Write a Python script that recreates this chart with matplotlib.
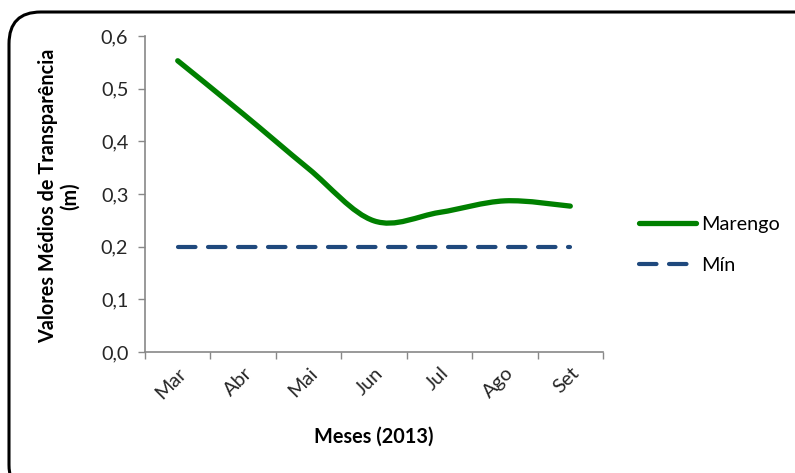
import numpy as np
import matplotlib
matplotlib.use("Agg")
import matplotlib.pyplot as plt
from matplotlib.path import Path
from matplotlib.patches import PathPatch, FancyBboxPatch
from matplotlib.lines import Line2D

plt.rcParams['font.family'] = ['Lato', 'DejaVu Sans']

meses = ["Mar", "Abr", "Mai", "Jun", "Jul", "Ago", "Set"]
marengo = [0.553, 0.452, 0.348, 0.249, 0.265, 0.287, 0.277]
minimo = [0.2, 0.2, 0.2, 0.2, 0.2, 0.2, 0.2]

green = "#008000"
blue = "#1F497D"
fs = 14.3

fig = plt.figure(figsize=(7.95, 4.73), dpi=100)
ax = fig.add_axes([0.1824, 0.2558, 0.5761, 0.6681])

# smoothed line (Excel style bezier through the points)
x = np.arange(len(meses), dtype=float)
y = np.array(marengo)
pts = np.column_stack([x, y])
verts = [pts[0]]
codes = [Path.MOVETO]
n = len(pts)
for i in range(n - 1):
    p0 = pts[max(i - 1, 0)]
    p1 = pts[i]
    p2 = pts[i + 1]
    p3 = pts[min(i + 2, n - 1)]
    verts += [p1 + (p2 - p0) / 6, p2 - (p3 - p1) / 6, p2]
    codes += [Path.CURVE4] * 3
ax.add_patch(PathPatch(Path(verts, codes), facecolor="none", edgecolor=green,
                       lw=3.8, capstyle="round", joinstyle="round"))

ax.plot(x, minimo, color=blue, lw=3.0, dashes=(4.2, 3.0),
        dash_capstyle="round")

ax.set_xlim(-0.5, len(meses) - 0.5)
ax.set_ylim(0, 0.6)
ax.set_yticks(np.arange(0, 0.61, 0.1))
ax.set_yticklabels([f"{v:.1f}".replace(".", ",") for v in np.arange(0, 0.61, 0.1)],
                   fontsize=fs, color="#262626")
ax.set_xticks(np.arange(-0.5, len(meses), 1.0))
ax.set_xticklabels([])
ax.set_xticks(x, minor=True)
ax.set_xticklabels(meses, minor=True, rotation=45, ha="right", va="top",
                   rotation_mode="anchor", fontsize=fs, color="#262626")
ax.tick_params(axis="x", which="minor", length=0, pad=9)
ax.tick_params(axis="both", which="major", length=5, color="#888888", width=1)
ax.tick_params(axis="y", pad=7)

for side in ["top", "right"]:
    ax.spines[side].set_visible(False)
for side in ["left", "bottom"]:
    ax.spines[side].set_color("#888888")
    ax.spines[side].set_linewidth(1.2)

fig.text(0.4704, 1 - 437 / 473, "Meses (2013)", ha="center", va="center",
         fontsize=fs, fontweight="bold")
fig.text(0.0745, 1 - 196 / 473, "Valores Médios de Transparência\n(m)",
         ha="center", va="center", rotation=90, fontsize=fs,
         fontweight="bold", linespacing=1.1)

handles = [Line2D([], [], color=green, lw=3.8, solid_capstyle="round"),
           Line2D([], [], color=blue, lw=3.0, dashes=(4.2, 3.0),
                  dash_capstyle="round")]
fig.legend(handles, ["Marengo", "Mín"], loc="center left",
           bbox_to_anchor=(0.781, 1 - 245 / 473), frameon=False,
           fontsize=fs, handlelength=2.9, handletextpad=0.25,
           labelspacing=1.25)

# rounded chart frame
frame = FancyBboxPatch((9 / 795, -0.05), 1.2, 1 - 12 / 473 + 0.05,
                       boxstyle="round,pad=0,rounding_size=0.04",
                       transform=fig.transFigure, facecolor="none",
                       edgecolor="black", lw=2.2, mutation_aspect=795 / 473)
fig.patches.append(frame)

fig.savefig("out.png", dpi=100)
